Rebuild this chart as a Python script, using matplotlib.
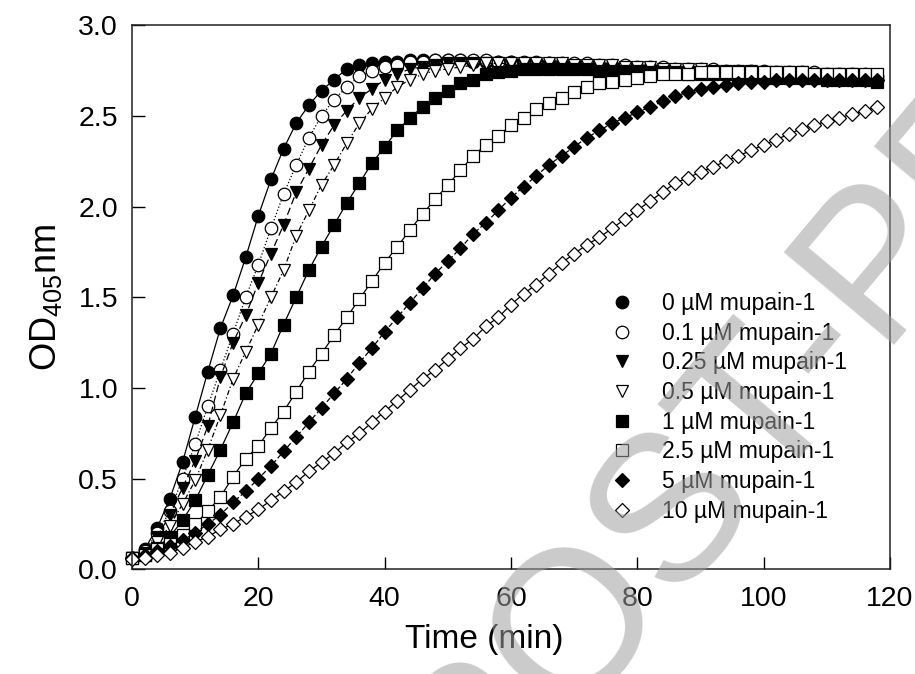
import matplotlib
matplotlib.use("Agg")
import matplotlib.pyplot as plt
from matplotlib.lines import Line2D

plt.rcParams['font.family'] = ['Liberation Sans', 'DejaVu Sans']
plt.rcParams['mathtext.fontset'] = 'custom'
plt.rcParams['mathtext.rm'] = 'Liberation Sans'
plt.rcParams['mathtext.it'] = 'Liberation Sans:italic'

# Sampling times (min)
time_min = [0, 2, 4, 6, 8, 10, 12, 14, 16, 18, 20, 22, 24, 26, 28, 30, 32, 34, 36, 38,
            40, 42, 44, 46, 48, 50, 52, 54, 56, 58, 60, 62, 64, 66, 68, 70, 72, 74, 76, 78,
            80, 82, 84, 86, 88, 90, 92, 94, 96, 98, 100, 102, 104, 106, 108, 110, 112, 114, 116, 118]

# OD405nm readings per mupain-1 concentration
od_0 = [0.06, 0.11, 0.23, 0.39, 0.59, 0.84, 1.09, 1.33, 1.51, 1.72, 1.95, 2.15, 2.32, 2.46, 2.56, 2.64, 2.70, 2.76, 2.78, 2.79,
        2.80, 2.80, 2.81, 2.81, 2.81, 2.81, 2.81, 2.80, 2.80, 2.80, 2.80, 2.79, 2.79, 2.79, 2.78, 2.78, 2.78, 2.77, 2.77, 2.77,
        2.76, 2.76, 2.76, 2.75, 2.75, 2.75, 2.74, 2.74, 2.74, 2.73, 2.73, 2.73, 2.72, 2.72, 2.72, 2.72, 2.71, 2.71, 2.71, 2.70]
od_01 = [0.06, 0.10, 0.20, 0.32, 0.50, 0.69, 0.90, 1.10, 1.30, 1.50, 1.68, 1.88, 2.07, 2.23, 2.38, 2.50, 2.59, 2.66, 2.72, 2.75,
         2.77, 2.78, 2.80, 2.80, 2.81, 2.81, 2.81, 2.81, 2.81, 2.80, 2.80, 2.80, 2.80, 2.79, 2.79, 2.79, 2.79, 2.78, 2.78, 2.78,
         2.77, 2.77, 2.77, 2.76, 2.76, 2.76, 2.76, 2.75, 2.75, 2.75, 2.75, 2.74, 2.74, 2.74, 2.74, 2.73, 2.73, 2.73, 2.73, 2.72]
od_025 = [0.06, 0.09, 0.18, 0.30, 0.45, 0.60, 0.79, 1.06, 1.25, 1.40, 1.58, 1.74, 1.90, 2.08, 2.21, 2.34, 2.45, 2.53, 2.60, 2.65,
          2.70, 2.73, 2.76, 2.77, 2.78, 2.79, 2.79, 2.79, 2.79, 2.79, 2.78, 2.78, 2.78, 2.77, 2.77, 2.77, 2.76, 2.76, 2.76, 2.75,
          2.75, 2.75, 2.74, 2.74, 2.74, 2.73, 2.73, 2.73, 2.72, 2.72, 2.72, 2.72, 2.71, 2.71, 2.71, 2.70, 2.70, 2.70, 2.70, 2.69]
od_05 = [0.06, 0.08, 0.15, 0.24, 0.36, 0.49, 0.66, 0.85, 1.05, 1.20, 1.35, 1.50, 1.65, 1.84, 1.98, 2.12, 2.23, 2.35, 2.46, 2.54,
         2.60, 2.66, 2.70, 2.73, 2.75, 2.76, 2.77, 2.78, 2.79, 2.79, 2.79, 2.79, 2.79, 2.79, 2.79, 2.78, 2.78, 2.78, 2.78, 2.77,
         2.77, 2.77, 2.76, 2.76, 2.76, 2.76, 2.75, 2.75, 2.75, 2.75, 2.74, 2.74, 2.74, 2.74, 2.73, 2.73, 2.73, 2.73, 2.72, 2.72]
od_1 = [0.06, 0.08, 0.12, 0.18, 0.27, 0.38, 0.52, 0.66, 0.81, 0.97, 1.08, 1.19, 1.35, 1.50, 1.65, 1.78, 1.90, 2.02, 2.13, 2.24,
        2.33, 2.42, 2.49, 2.55, 2.60, 2.64, 2.68, 2.70, 2.73, 2.74, 2.75, 2.76, 2.76, 2.76, 2.76, 2.76, 2.76, 2.75, 2.75, 2.75,
        2.75, 2.74, 2.74, 2.74, 2.73, 2.73, 2.73, 2.73, 2.72, 2.72, 2.72, 2.71, 2.71, 2.71, 2.71, 2.70, 2.70, 2.70, 2.70, 2.69]
od_25 = [0.06, 0.08, 0.11, 0.14, 0.19, 0.25, 0.32, 0.40, 0.51, 0.61, 0.68, 0.78, 0.87, 0.98, 1.09, 1.19, 1.29, 1.39, 1.49, 1.59,
         1.69, 1.78, 1.87, 1.96, 2.04, 2.12, 2.20, 2.28, 2.34, 2.39, 2.45, 2.49, 2.54, 2.57, 2.60, 2.63, 2.66, 2.68, 2.69, 2.70,
         2.71, 2.72, 2.73, 2.73, 2.73, 2.74, 2.74, 2.74, 2.74, 2.74, 2.74, 2.74, 2.74, 2.74, 2.73, 2.73, 2.73, 2.73, 2.73, 2.73]
od_5 = [0.06, 0.08, 0.10, 0.13, 0.16, 0.20, 0.25, 0.30, 0.37, 0.43, 0.50, 0.57, 0.65, 0.73, 0.81, 0.89, 0.97, 1.05, 1.14, 1.22,
        1.31, 1.39, 1.47, 1.55, 1.63, 1.70, 1.77, 1.85, 1.91, 1.98, 2.05, 2.11, 2.17, 2.23, 2.28, 2.33, 2.38, 2.42, 2.46, 2.49,
        2.52, 2.55, 2.58, 2.61, 2.63, 2.65, 2.66, 2.67, 2.68, 2.69, 2.69, 2.70, 2.70, 2.70, 2.70, 2.70, 2.70, 2.70, 2.70, 2.70]
od_10 = [0.055, 0.06, 0.08, 0.09, 0.12, 0.15, 0.18, 0.22, 0.25, 0.29, 0.33, 0.38, 0.43, 0.48, 0.54, 0.59, 0.64, 0.70, 0.75, 0.81,
         0.87, 0.93, 0.99, 1.05, 1.10, 1.16, 1.22, 1.27, 1.34, 1.39, 1.46, 1.52, 1.57, 1.63, 1.69, 1.74, 1.79, 1.83, 1.88, 1.93,
         1.98, 2.03, 2.08, 2.13, 2.16, 2.19, 2.22, 2.25, 2.28, 2.31, 2.34, 2.37, 2.40, 2.43, 2.45, 2.47, 2.49, 2.51, 2.53, 2.55]

labels = ['0 µM mupain-1', '0.1 µM mupain-1', '0.25 µM mupain-1', '0.5 µM mupain-1',
          '1 µM mupain-1', '2.5 µM mupain-1', '5 µM mupain-1', '10 µM mupain-1']
series = [od_0, od_01, od_025, od_05, od_1, od_25, od_5, od_10]

# marker, face colour, marker size, line style
styles = [
    ('o', 'black', 9.0, '-'),
    ('o', 'white', 9.0, ':'),
    ('v', 'black', 9.0, (0, (6, 3))),
    ('v', 'white', 9.0, (0, (1, 2, 4, 2))),
    ('s', 'black', 8.3, '-'),
    ('s', 'white', 8.3, '-'),
    ('D', 'black', 7.6, (0, (4, 2))),
    ('D', 'white', 7.6, '-'),
]

fig = plt.figure(figsize=(9.15, 6.74), dpi=100)
ax = fig.add_axes([132 / 915, 1 - 569.3 / 674, 758 / 915, 544 / 674])

handles = []
for vals, (mk, fc, ms, ls), lab in zip(series, styles, labels):
    ax.plot(time_min, vals, color='black', linewidth=0.9, linestyle=ls,
            marker=mk, markersize=ms, markerfacecolor=fc, markeredgecolor='black',
            markeredgewidth=0.9, clip_on=False)
    handles.append(Line2D([], [], linestyle='none', marker=mk, markersize=ms,
                          markerfacecolor=fc, markeredgecolor='black', markeredgewidth=0.9))

ax.set_xlim(0, 120)
ax.set_ylim(0, 3.0)
ax.set_xticks([0, 20, 40, 60, 80, 100, 120])
ax.set_yticks([0.0, 0.5, 1.0, 1.5, 2.0, 2.5, 3.0])
ax.set_yticklabels(['0.0', '0.5', '1.0', '1.5', '2.0', '2.5', '3.0'])
ax.tick_params(direction='in', length=9, width=1, labelsize=20.5, top=False, right=False)
ax.tick_params(axis='x', pad=12)
ax.tick_params(axis='y', pad=10)
for sp in ax.spines.values():
    sp.set_linewidth(1.1)
    sp.set_color('#222222')

ax.set_xlabel('Time (min)', fontsize=24)
ax.xaxis.set_label_coords((484 - 132) / 758, -0.1)
ax.set_ylabel(r'OD$_{405}$nm', fontsize=26)
ax.yaxis.set_label_coords(-0.09, 0.5)

fig.legend(handles, labels, loc='upper left', bbox_to_anchor=(610.5 / 915, 1 - 292 / 674),
           frameon=False, fontsize=16.5, handlelength=1.0, handletextpad=1.25,
           labelspacing=0.29, borderpad=0, borderaxespad=0)

# diagonal watermark laid over the figure
fig.text(0.9145, 0.5408, 'POST-PRINT', fontsize=150, rotation=50, rotation_mode='anchor',
         ha='center', va='center', color='#a0a0a0', alpha=0.55, zorder=10)

fig.savefig('out.png', dpi=100)
